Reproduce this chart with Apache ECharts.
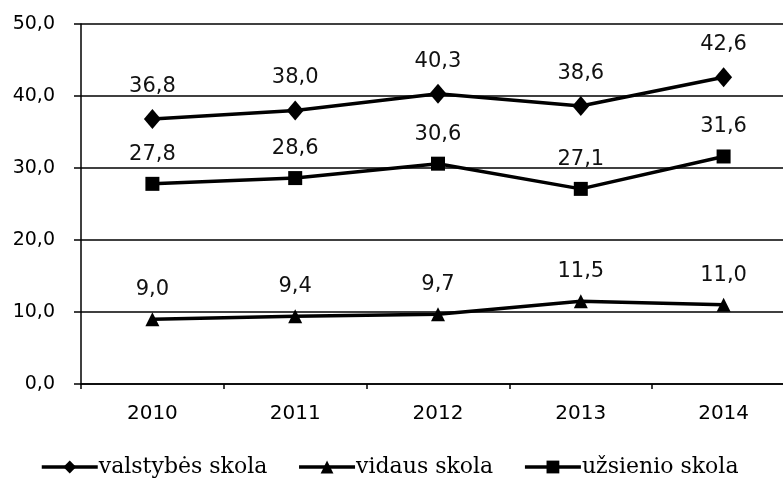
<!DOCTYPE html>
<html>
<head>
<meta charset="utf-8">
<script src="https://cdn.jsdelivr.net/npm/echarts@6/dist/echarts.min.js"></script>
<style>
  html, body { margin: 0; padding: 0; background: #fff; overflow: hidden; }
  #chart { width: 796px; height: 479px; }
</style>
</head>
<body>
<div id="chart"></div>
<script>
// duomenys
const metai = ['2010', '2011', '2012', '2013', '2014'];
const valstybes = [36.8, 38.0, 40.3, 38.6, 42.6];
const vidaus = [9.0, 9.4, 9.7, 11.5, 11.0];
const uzsienio = [27.8, 28.6, 30.6, 27.1, 31.6];

const kablelis = v => v.toFixed(1).replace('.', ',');
const sansFont = '"DejaVu Sans", Verdana, sans-serif';
const serifFont = '"DejaVu Serif", "Liberation Serif", serif';

function serija(pavadinimas, duomenys, simbolis, dydis) {
  return {
    name: pavadinimas,
    type: 'line',
    data: duomenys,
    symbol: simbolis,
    symbolSize: dydis,
    showAllSymbol: true,
    lineStyle: { color: '#000', width: 3.5 },
    itemStyle: { color: '#000' },
    label: {
      show: true,
      position: 'top',
      distance: 12,
      color: '#111',
      fontFamily: sansFont,
      fontSize: 21,
      formatter: p => kablelis(p.value)
    },
    z: 3
  };
}

const grafikas = echarts.init(document.getElementById('chart'));
grafikas.setOption({
  animation: false,
  backgroundColor: '#fff',
  grid: { left: 81, right: 1, top: 24, bottom: 95, containLabel: false },
  xAxis: {
    type: 'category',
    data: metai,
    boundaryGap: true,
    axisLine: { lineStyle: { color: '#000', width: 1.5 } },
    axisTick: { show: true, length: 5, lineStyle: { color: '#000', width: 1.5 } },
    axisLabel: { color: '#000', fontFamily: sansFont, fontSize: 20, margin: 20 }
  },
  yAxis: {
    type: 'value',
    min: 0,
    max: 50,
    interval: 10,
    axisLine: { show: true, lineStyle: { color: '#000', width: 1.5 } },
    axisTick: { show: true, length: 7, lineStyle: { color: '#000', width: 1.5 } },
    axisLabel: { color: '#000', fontFamily: sansFont, fontSize: 19, margin: 26, formatter: v => kablelis(v) },
    splitLine: { show: true, lineStyle: { color: '#000', width: 1.5 } }
  },
  legend: {
    top: 456,
    left: 40,
    padding: 0,
    itemWidth: 56,
    itemHeight: 16,
    itemGap: 30,
    lineStyle: { width: 3.5, color: '#000' },
    textStyle: { color: '#000', fontFamily: serifFont, fontSize: 22, padding: [0, 0, 0, -4] },
    data: ['valstybės skola', 'vidaus skola', 'užsienio skola']
  },
  series: [
    serija('valstybės skola', valstybes, 'diamond', [17, 20]),
    serija('vidaus skola', vidaus, 'triangle', 14),
    serija('užsienio skola', uzsienio, 'rect', 14)
  ]
});
</script>
</body>
</html>
